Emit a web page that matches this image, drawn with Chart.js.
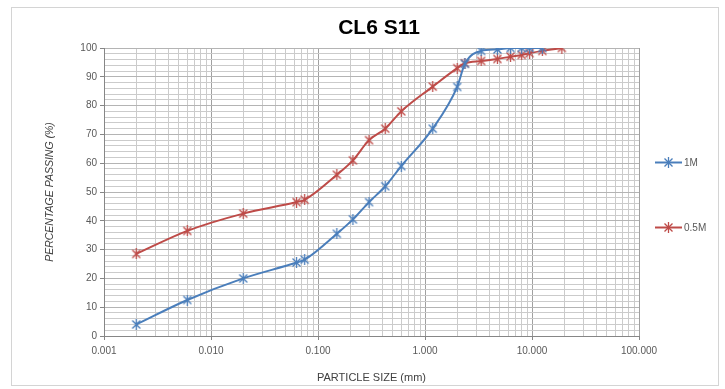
<!DOCTYPE html>
<html>
<head>
<meta charset="utf-8">
<script src="https://cdn.jsdelivr.net/npm/chart.js@4.4.1/dist/chart.umd.min.js"></script>
<style>
  html, body { margin: 0; padding: 0; background: #ffffff; }
  #wrap { position: relative; width: 725px; height: 389px; }
  #frame { position: absolute; left: 11px; top: 7px; width: 708px; height: 379px;
           border: 1px solid #d4d4d4; box-sizing: border-box; pointer-events: none; }
  canvas { position: absolute; left: 0; top: 0; }
</style>
</head>
<body>
<div id="wrap">
  <canvas id="c" width="725" height="389"></canvas>
  <div id="frame"></div>
</div>
<script>
// Grading curves: particle size (mm) vs percentage passing (%)
const seriesNames = ['1M', '0.5M'];
const seriesColors = ['#4a7ebb', '#be4b48'];

const sizes1M   = [0.002, 0.006, 0.02, 0.063, 0.075, 0.15, 0.212, 0.3, 0.425, 0.6, 1.18, 2, 2.36, 3.35, 4.75, 6.3, 8, 9.5, 12.5];
const passing1M = [4, 12.5, 20, 25.5, 26.5, 35.5, 40.5, 46.5, 52, 59, 72, 86.5, 94.5, 99, 99.5, 100, 100, 100, 100];

const sizes05M   = [0.002, 0.006, 0.02, 0.063, 0.075, 0.15, 0.212, 0.3, 0.425, 0.6, 1.18, 2, 2.36, 3.35, 4.75, 6.3, 8, 9.5, 12.5, 19];
const passing05M = [28.5, 36.5, 42.5, 46.5, 47.3, 56, 61, 68, 72, 78, 86.6, 93, 94.7, 95.5, 96.2, 97, 97.6, 98.2, 99, 100];

const xDecades = [0.001, 0.01, 0.1, 1, 10, 100];
const yTickLabels = [0, 10, 20, 30, 40, 50, 60, 70, 80, 90, 100];

const titleText = 'CL6 S11';
const xTitle = 'PARTICLE SIZE (mm)';
const yTitle = 'PERCENTAGE PASSING (%)';

const FONT = '"Liberation Sans", Arial, sans-serif';

// Asterisk marker: a diagonal cross with a vertical stroke
function starMarker(color) {
  const s = 11;
  const c = document.createElement('canvas');
  c.width = s; c.height = s;
  const g = c.getContext('2d');
  g.strokeStyle = color;
  g.lineWidth = 1.3;
  g.beginPath();
  g.moveTo(1.5, 1.5); g.lineTo(s - 1.5, s - 1.5);
  g.moveTo(s - 1.5, 1.5); g.lineTo(1.5, s - 1.5);
  g.moveTo(s / 2, 0); g.lineTo(s / 2, s);
  g.stroke();
  return c;
}

// log-axis gridline positions: 1..9 in every decade
const logTicks = [];
for (let i = 0; i < xDecades.length - 1; i++) {
  for (let k = 1; k <= 9; k++) logTicks.push(+(xDecades[i] * k).toPrecision(6));
}
logTicks.push(xDecades[xDecades.length - 1]);
const isDecade = v => Math.abs(Math.log10(v) - Math.round(Math.log10(v))) < 1e-9;

const toPoints = (xs, ys) => xs.map((x, i) => ({ x: x, y: ys[i] }));

// Chart title, centred over the chart frame
const titlePlugin = {
  id: 'frameTitle',
  afterDraw(chart) {
    const { ctx } = chart;
    ctx.save();
    ctx.fillStyle = '#000000';
    ctx.font = 'bold 21px ' + FONT;
    ctx.textAlign = 'center';
    ctx.textBaseline = 'middle';
    ctx.fillText(titleText, 379, 28);
    ctx.restore();
  }
};

// Legend to the right of the plot: line with marker, then series name
const legendPlugin = {
  id: 'sideLegend',
  afterDraw(chart) {
    const { ctx, chartArea } = chart;
    const cy = (chartArea.top + chartArea.bottom) / 2 + 3;
    const gap = 65;
    const x0 = chartArea.right + 16;
    chart.data.datasets.forEach((ds, i) => {
      const y = cy - gap / 2 + i * gap;
      ctx.save();
      ctx.strokeStyle = ds.borderColor;
      ctx.lineWidth = 2;
      ctx.beginPath();
      ctx.moveTo(x0, y); ctx.lineTo(x0 + 27, y);
      ctx.stroke();
      ctx.drawImage(ds.pointStyle, x0 + 13.5 - 5.5, y - 5.5);
      ctx.fillStyle = '#595959';
      ctx.font = '10px ' + FONT;
      ctx.textBaseline = 'middle';
      ctx.fillText(ds.label, x0 + 29, y + 0.5);
      ctx.restore();
    });
  }
};

new Chart(document.getElementById('c'), {
  type: 'line',
  data: {
    datasets: [
      { label: seriesNames[0], data: toPoints(sizes1M, passing1M),
        borderColor: seriesColors[0], backgroundColor: seriesColors[0],
        borderWidth: 2, pointStyle: starMarker(seriesColors[0]),
        cubicInterpolationMode: 'monotone', fill: false },
      { label: seriesNames[1], data: toPoints(sizes05M, passing05M),
        borderColor: seriesColors[1], backgroundColor: seriesColors[1],
        borderWidth: 2, pointStyle: starMarker(seriesColors[1]),
        cubicInterpolationMode: 'monotone', fill: false }
    ]
  },
  options: {
    responsive: false,
    animation: false,
    layout: { padding: { left: 0, right: 86, top: 48, bottom: 0 } },
    plugins: {
      legend: { display: false },
      tooltip: { enabled: false },
      title: { display: false }
    },
    scales: {
      x: {
        type: 'logarithmic', min: xDecades[0], max: xDecades[xDecades.length - 1],
        afterBuildTicks: s => { s.ticks = logTicks.map(v => ({ value: v, major: isDecade(v) })); },
        afterFit: s => { s.height = 53; },
        ticks: {
          autoSkip: false, maxRotation: 0, minRotation: 0, padding: 5,
          color: '#595959',
          font: { family: FONT, size: 10 },
          callback: v => isDecade(v) ? v.toFixed(3) : ''
        },
        grid: {
          color: c => (c.tick && isDecade(c.tick.value)) ? '#a0a0a0' : '#cbcbcb',
          tickLength: 4,
          tickColor: c => (c.tick && isDecade(c.tick.value)) ? '#868686' : 'rgba(0,0,0,0)'
        },
        border: { color: '#868686' },
        title: {
          display: true, text: xTitle, color: '#404040',
          font: { family: FONT, size: 11 },
          padding: { top: 4, bottom: 4 }
        }
      },
      y: {
        min: 0, max: 100,
        afterBuildTicks: s => {
          const t = [];
          for (let v = 0; v <= 100; v += 2) t.push({ value: v });
          s.ticks = t;
        },
        afterFit: s => { s.width = 104; },
        ticks: {
          autoSkip: false, padding: 3, color: '#595959',
          font: { family: FONT, size: 10 },
          callback: v => yTickLabels.includes(v) ? String(v) : ''
        },
        grid: {
          color: c => (c.tick && yTickLabels.includes(c.tick.value)) ? '#b4b4b4' : '#cbcbcb',
          tickLength: 4,
          tickColor: c => (c.tick && yTickLabels.includes(c.tick.value)) ? '#868686' : 'rgba(0,0,0,0)'
        },
        border: { color: '#868686' },
        title: {
          display: true, text: yTitle, color: '#404040',
          font: { family: FONT, size: 10.5, style: 'italic' },
          padding: { top: 44, bottom: 0 }
        }
      }
    }
  },
  plugins: [titlePlugin, legendPlugin]
});
</script>
</body>
</html>
